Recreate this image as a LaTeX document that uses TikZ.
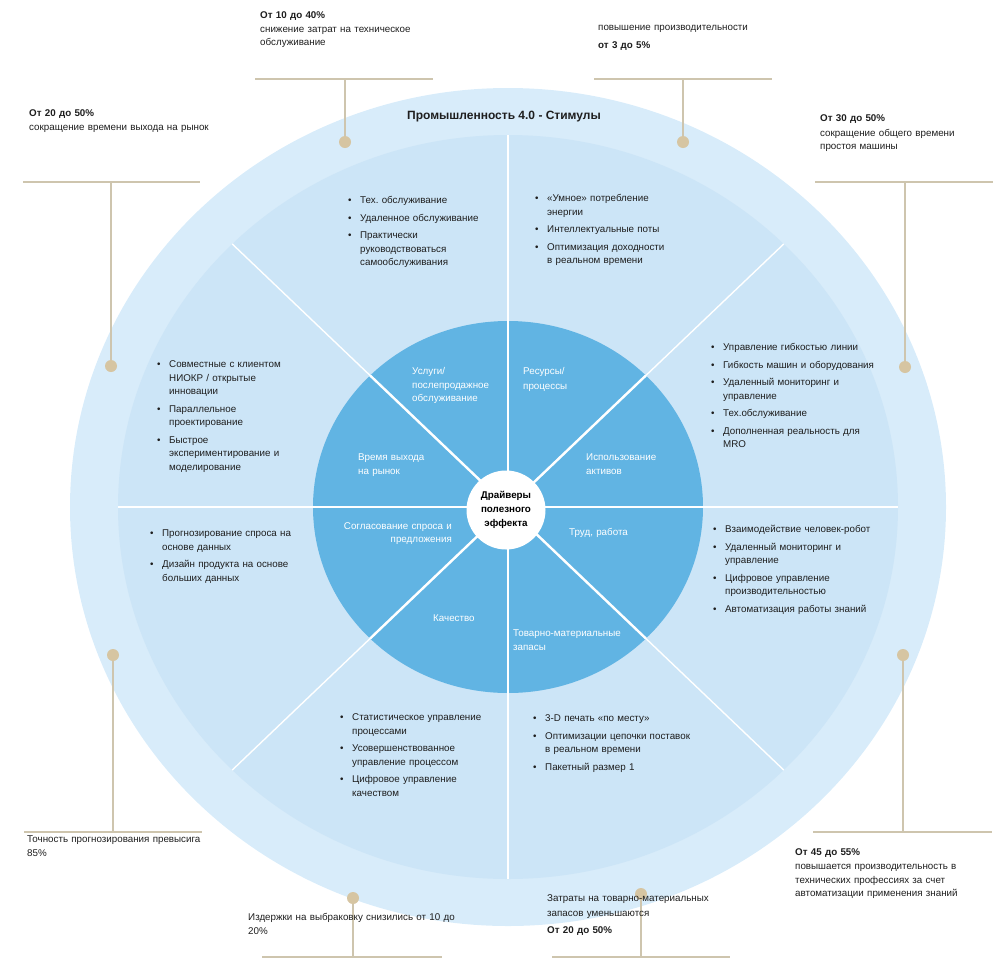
\documentclass[tikz,border=0pt]{standalone}
\usepackage{fontspec}
\setmainfont{Liberation Sans}
\usepackage{xcolor}
\usetikzlibrary{positioning}
\definecolor{outerring}{RGB}{216,236,250}
\definecolor{midring}{RGB}{204,229,247}
\definecolor{innerdisk}{RGB}{97,180,227}
\definecolor{tanline}{RGB}{206,197,174}
\definecolor{tandot}{RGB}{214,197,162}
\definecolor{textgray}{RGB}{30,30,30}
\newcommand{\bfirst}[1]{\noindent\hangindent=12pt\hangafter=1\makebox[12pt][l]{\textbullet}#1\par}
\newcommand{\bnext}[1]{\vspace{4pt}\bfirst{#1}}
\frenchspacing

\begin{document}
\begin{tikzpicture}[x=1pt, y=-1pt,
  every node/.style={font={\fontsize{9.8}{13.5}\selectfont}, text=textgray, inner sep=0pt},
  calldot/.style={circle, fill=tandot, minimum size=12pt},
  callline/.style={tanline, line width=1.5pt},
  calltext/.style={anchor=base west, align=left, text width=220pt},
  bullets/.style={anchor=base west, align=left, text width=190pt},
  sector/.style={text=white, anchor=base west, align=left, text width=130pt},
  divider/.style={white, line width=1.4pt}]

\useasboundingbox (0,0) rectangle (1000,959);

% Rings (drawn first, background)
\coordinate (ctr) at (508,507);
\fill[outerring] (ctr) ellipse [x radius=438pt, y radius=419pt];
\fill[midring] (ctr) ellipse [x radius=390pt, y radius=372pt];
\fill[innerdisk] (ctr) ellipse [x radius=195pt, y radius=186pt];

% Sector dividers
\foreach \a in {0,45,...,315}
  \draw[divider] (ctr) -- ([shift={(ctr)}]\a:390pt and 372pt);
\foreach \a in {0,45,...,315}
  \draw[divider, line width=2.4pt] (ctr) -- ([shift={(ctr)}]\a:195pt and 186pt);

% Hub
\node[circle, fill=white, minimum size=79pt, align=center,
  font={\bfseries\fontsize{9.8}{14}\selectfont}, text=black] (hub) at (506,510)
  {Драйверы\\полезного\\эффекта};

% Title
\node[font={\bfseries\fontsize{12}{14}\selectfont}] (title) at (504,117)
  {Промышленность 4.0 - Стимулы};

% Inner sector labels
\node[sector] (lbl-service) at (412,374.5) {Услуги/\\послепродажное\\обслуживание};
\node[sector, font={\fontsize{9.8}{15}\selectfont}] (lbl-resource) at (523,374.5) {Ресурсы/\\процессы};
\node[sector] (lbl-asset) at (586,460.5) {Использование\\активов};
\node[sector] (lbl-labor) at (569,535.5) {Труд, работа};
\node[sector, font={\fontsize{9.8}{14}\selectfont}] (lbl-inventory) at (513,636.5) {Товарно-материальные\\запасы};
\node[sector] (lbl-quality) at (433,621.5) {Качество};
\node[sector, anchor=base east, align=right, font={\fontsize{9.8}{12.5}\selectfont}] (lbl-supply) at (452,529.5) {Согласование спроса и\\предложения};
\node[sector, font={\fontsize{9.8}{14}\selectfont}] (lbl-market) at (358,460.5) {Время выхода\\на рынок};

% Outer sector lists
\node[bullets] (list-service) at (348,203.5) {%
  \bfirst{Тех. обслуживание}
  \bnext{Удаленное обслуживание}
  \bnext{Практически\newline руководствоваться\newline самообслуживания}};
\node[bullets] (list-resource) at (535,201.5) {%
  \bfirst{«Умное» потребление\newline энергии}
  \bnext{Интеллектуальные поты}
  \bnext{Оптимизация доходности\newline в реальном времени}};
\node[bullets] (list-asset) at (711,350.5) {%
  \bfirst{Управление гибкостью линии}
  \bnext{Гибкость машин и оборудования}
  \bnext{Удаленный мониторинг и\newline управление}
  \bnext{Тех.обслуживание}
  \bnext{Дополненная реальность для\newline MRO}};
\node[bullets] (list-labor) at (713,532.5) {%
  \bfirst{Взаимодействие человек-робот}
  \bnext{Удаленный мониторинг и\newline управление}
  \bnext{Цифровое управление\newline производительностью}
  \bnext{Автоматизация работы знаний}};
\node[bullets] (list-inventory) at (533,721.5) {%
  \bfirst{3-D печать «по месту»}
  \bnext{Оптимизации цепочки поставок\newline в реальном времени}
  \bnext{Пакетный размер 1}};
\node[bullets] (list-quality) at (340,720.5) {%
  \bfirst{Статистическое управление\newline процессами}
  \bnext{Усовершенствованное\newline управление процессом}
  \bnext{Цифровое управление\newline качеством}};
\node[bullets] (list-supply) at (150,536.5) {%
  \bfirst{Прогнозирование спроса на\newline основе данных}
  \bnext{Дизайн продукта на основе\newline больших данных}};
\node[bullets] (list-market) at (157,367.5) {%
  \bfirst{Совместные с клиентом\newline НИОКР / открытые\newline инновации}
  \bnext{Параллельное\newline проектирование}
  \bnext{Быстрое\newline экспериментирование и\newline моделирование}};

% Callouts: dot, stem, bar and text
\node[calldot] (d1) at (345,142) {};
\coordinate (b1) at (345,79);
\draw[callline] (255,79) -- (433,79);
\draw[callline] (b1) -- (d1);
\node[calltext] (t1) at (260,18.5) {\textbf{От 10 до 40\%}\\снижение затрат на техническое\\обслуживание};

\node[calldot] (d2) at (683,142) {};
\coordinate (b2) at (683,79);
\draw[callline] (594,79) -- (772,79);
\draw[callline] (b2) -- (d2);
\node[calltext] (t2) at (598,30.5) {повышение производительности\\[4.5pt]\textbf{от 3 до 5\%}};

\node[calldot] (d3) at (111,366) {};
\coordinate (b3) at (111,182);
\draw[callline] (23,182) -- (200,182);
\draw[callline] (b3) -- (d3);
\node[calltext] (t3) at (29,116.5) {\textbf{От 20 до 50\%}\\сокращение времени выхода на рынок};

\node[calldot] (d4) at (905,367) {};
\coordinate (b4) at (905,182);
\draw[callline] (815,182) -- (993,182);
\draw[callline] (b4) -- (d4);
\node[calltext] (t4) at (820,121.5) {\textbf{От 30 до 50\%}\\[1pt]сокращение общего времени\\простоя машины};

\node[calldot] (d5) at (113,655) {};
\coordinate (b5) at (113,832);
\draw[callline] (24,832) -- (202,832);
\draw[callline] (d5) -- (b5);
\node[calltext] (t5) at (27,842.5) {Точность прогнозирования превысига\\85\%};

\node[calldot] (d6) at (353,898) {};
\coordinate (b6) at (353,957);
\draw[callline] (262,957) -- (442,957);
\draw[callline] (d6) -- (b6);
\node[calltext] (t6) at (248,920.5) {Издержки на выбраковку снизились от 10 до\\20\%};

\node[calldot] (d7) at (641,894) {};
\coordinate (b7) at (641,957);
\draw[callline] (552,957) -- (730,957);
\draw[callline] (d7) -- (b7);
\node[calltext] (t7) at (547,901.5) {Затраты на товарно-материальных\\[1.5pt]запасов уменьшаются\\[3.5pt]\textbf{От 20 до 50\%}};

\node[calldot] (d8) at (903,655) {};
\coordinate (b8) at (903,832);
\draw[callline] (813,832) -- (992,832);
\draw[callline] (d8) -- (b8);
\node[calltext] (t8) at (795,855.5) {\textbf{От 45 до 55\%}\\[0.5pt]повышается производительность в\\технических профессиях за счет\\автоматизации применения знаний};

\end{tikzpicture}
\end{document}
